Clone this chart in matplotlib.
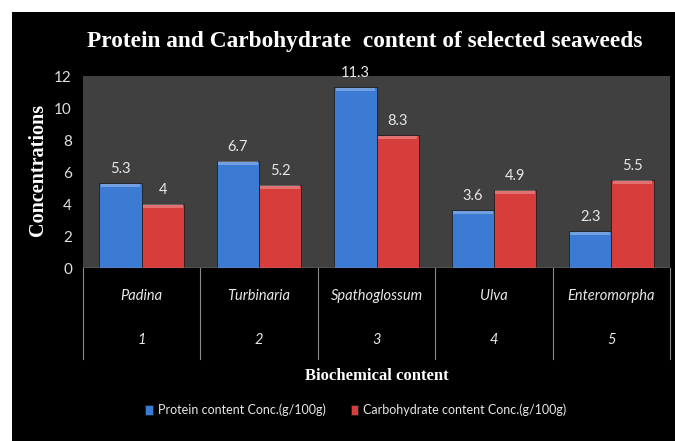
import matplotlib.pyplot as plt
from matplotlib.patches import Rectangle
import numpy as np

species = ["Padina", "Turbinaria", "Spathoglossum", "Ulva", "Enteromorpha"]
sample_no = ["1", "2", "3", "4", "5"]
protein = [5.3, 6.7, 11.3, 3.6, 2.3]
carbohydrate = [4, 5.2, 8.3, 4.9, 5.5]
series_names = ["Protein content Conc.(g/100g)", "Carbohydrate content Conc.(g/100g)"]

BLUE = "#3c7bd4"
RED = "#d63d3b"
LABEL_FONT = ["Lato", "DejaVu Sans"]
HEAD_FONT = ["Liberation Serif", "DejaVu Serif"]

fig = plt.figure(figsize=(6.75, 4.41), dpi=100, facecolor="white")
# black panel behind the chart (white margin top and left)
fig.patches.append(Rectangle((12 / 675, 0), 1, 1 - 12 / 441, transform=fig.transFigure,
                             facecolor="black", edgecolor="none", zorder=-5))

ax = fig.add_axes([83 / 675, 1 - 268 / 441, 587 / 675, 192 / 441])
ax.set_zorder(1)
ax.set_facecolor("#404040")

x = np.arange(len(species))
w = 0.36
bars = []
for vals, color, off in [(protein, BLUE, -w / 2), (carbohydrate, RED, w / 2)]:
    b = ax.bar(x + off, vals, w, color=color, edgecolor="#1f1f1f", linewidth=0.6, zorder=2)
    bars.append(b)
    # bevel highlight along the top of each bar
    ax.bar(x + off, [0.22] * len(vals), w * 0.94, bottom=[v - 0.25 for v in vals],
           color="white", alpha=0.28, linewidth=0, zorder=3)
    for xi, v in zip(x + off, vals):
        ax.annotate(f"{v:g}", (xi, v), xytext=(0, 5), textcoords="offset points",
                    ha="center", va="bottom", color="#e8e8e8", fontsize=10.5,
                    family=LABEL_FONT, annotation_clip=False)

ax.set_xlim(-0.5, len(species) - 0.5)
ax.set_ylim(0, 12)
ax.set_yticks(range(0, 13, 2))
ax.tick_params(axis="y", length=0, pad=8, labelsize=11, labelcolor="#e0e0e0")
for t in ax.get_yticklabels():
    t.set_family(LABEL_FONT)
ax.set_xticks([])
for s in ax.spines.values():
    s.set_visible(False)

# category axis: baseline, divider lines and two label rows
ax.axhline(0, color="#9a9a9a", linewidth=1, zorder=4)
for b in np.arange(-0.5, len(species), 1.0):
    ax.plot([b, b], [0, -5.7], color="#8a8a8a", linewidth=0.8, clip_on=False, zorder=4)
for xi, name, num in zip(x, species, sample_no):
    ax.text(xi, -1.75, name, ha="center", va="center", style="italic", color="#e8e8e8",
            fontsize=10.5, family=LABEL_FONT, clip_on=False)
    ax.text(xi, -4.5, num, ha="center", va="center", style="italic", color="#e8e8e8",
            fontsize=10.5, family=LABEL_FONT, clip_on=False)

fig.text(365 / 675, 1 - 42 / 441, "Protein and Carbohydrate  content of selected seaweeds",
         ha="center", va="center", color="white", fontsize=16.8, fontweight="bold", family=HEAD_FONT)
fig.text(38 / 675, 1 - 170 / 441, "Concentrations", rotation=90, ha="center", va="center",
         color="white", fontsize=14.5, fontweight="bold", family=HEAD_FONT)
fig.text(377 / 675, 1 - 376 / 441, "Biochemical content", ha="center", va="center",
         color="white", fontsize=12, fontweight="bold", family=HEAD_FONT)

leg = fig.legend([bars[0], bars[1]], series_names, loc="center", ncol=2,
                 bbox_to_anchor=(356 / 675, 1 - 410 / 441), frameon=False,
                 handlelength=0.6, handleheight=0.8, handletextpad=0.4, columnspacing=2.0,
                 prop={"family": LABEL_FONT, "size": 9})
for t in leg.get_texts():
    t.set_color("#e8e8e8")

fig.savefig("out.png", dpi=100, facecolor="white")
